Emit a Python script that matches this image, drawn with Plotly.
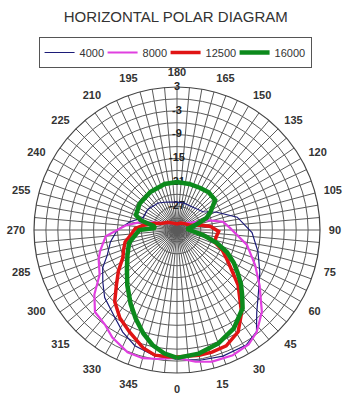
import plotly.graph_objects as go

# ---------------- data ----------------
title_text = "HORIZONTAL POLAR DIAGRAM"
series_names = ["4000", "8000", "12500", "16000"]

theta_4000 = [0, 10, 20, 31, 38, 44, 53, 63, 75, 88, 102, 114, 125, 145, 165, 180, 200, 215, 235, 250, 260, 270, 280, 290, 297, 305, 313, 325, 332, 340, 350, 360]
r_4000 = [-0.5, 0.3, 0.8, 0.8, -0.5, -4.1, -7.3, -9.6, -11.9, -14.1, -17.5, -22.0, -25.0, -26.0, -26.0, -26.0, -25.5, -24.7, -24.0, -23.9, -21.0, -18.0, -16.0, -14.3, -12.0, -10.2, -8.1, -5.9, -3.9, -2.0, -0.8, -0.5]

theta_8000 = [0, 8, 15, 24, 32, 38, 46, 56, 66, 78, 92, 100, 108, 115, 125, 150, 180, 210, 235, 250, 258, 265, 275, 285, 290, 300, 308, 315, 323, 329, 338, 345, 352, 360]
r_8000 = [-0.8, 0.5, 1.3, 1.5, 1.0, -0.4, -3.3, -7.9, -11.5, -15.0, -19.6, -21.2, -25.0, -28.5, -30.0, -31.0, -31.5, -31.0, -30.0, -27.5, -23.5, -20.0, -15.0, -13.0, -12.0, -10.5, -6.6, -3.8, -3.0, -1.4, 0.2, 0.4, -0.2, -0.8]

theta_12500 = [0, 10, 16, 23, 31, 38, 48, 58, 66, 72, 80, 88, 96, 102, 110, 130, 150, 180, 210, 230, 245, 254, 262, 268, 275, 283, 290, 297, 305, 312, 319, 327, 335, 344, 350, 356, 360]
r_12500 = [-1.0, -1.0, -1.0, -1.3, -3.1, -6.6, -12.3, -17.8, -20.5, -23.0, -23.0, -22.5, -24.5, -27.0, -29.5, -30.5, -31.0, -31.5, -31.0, -30.0, -29.0, -27.0, -24.5, -22.5, -21.5, -19.6, -18.7, -17.7, -15.0, -12.5, -9.1, -6.6, -4.7, -2.1, -1.0, -1.0, -1.0]

theta_16000 = [0, 10, 20, 30, 40, 45, 50, 55, 60, 66, 72, 79, 88, 96, 104, 112, 118, 122, 128, 140, 151, 165, 180, 195, 215, 235, 250, 255, 260, 265, 270, 285, 297, 308, 318, 328, 335, 342, 348, 354, 360]
r_16000 = [-0.8, -1.4, -2.6, -4.4, -7.3, -9.8, -12.0, -14.4, -16.5, -19.2, -22.5, -26.3, -29.5, -30.5, -28.5, -25.0, -23.5, -22.6, -20.8, -20.6, -20.9, -21.0, -20.9, -21.0, -21.3, -21.5, -22.0, -23.5, -27.0, -27.5, -23.5, -20.5, -19.0, -17.0, -14.3, -11.0, -8.4, -5.6, -3.4, -1.8, -0.8]

radial_range = [-33, 3]
radial_grid_vals = [3, 0, -3, -6, -9, -12, -15, -18, -21, -24, -27, -30]
radial_label_vals = [3, -3, -9, -15, -21, -27]
angle_grid_vals = list(range(0, 360, 5))
angle_label_step = 15

colors = ["#1c1c78", "#e040e0", "#e01414", "#0c8a1c"]
widths = [1.2, 2.2, 3.5, 4.5]
legend_text_widths = [18, 18, 24, 31]

# ---------------- figure ----------------
fig = go.Figure()

# radial scale labels drawn along the 180 degree spoke
fig.add_trace(go.Scatterpolar(
    r=radial_label_vals,
    theta=[180] * len(radial_label_vals),
    mode="text",
    text=[str(v) for v in radial_label_vals],
    textfont=dict(family="Liberation Sans, Arial", size=11, color="#222", weight="bold"),
    showlegend=False,
    hoverinfo="skip",
))

all_theta = [theta_4000, theta_8000, theta_12500, theta_16000]
all_r = [r_4000, r_8000, r_12500, r_16000]
for name, th, rr, c, w, lw in zip(series_names, all_theta, all_r, colors, widths, legend_text_widths):
    fig.add_trace(go.Scatterpolar(
        r=rr, theta=th, mode="lines", name=name,
        line=dict(color=c, width=w), legendwidth=lw,
    ))

fig.update_layout(
    width=346, height=398,
    margin=dict(l=34, r=26, t=87, b=25),
    paper_bgcolor="white",
    font=dict(family="Liberation Sans, Arial", color="#333"),
    title=dict(text=title_text, x=0.508, xanchor="center", y=1 - 17 / 398, yanchor="middle",
               font=dict(size=15, color="#333")),
    legend=dict(orientation="h", xref="container", x=0.506, xanchor="center",
                yref="container", y=1 - 37 / 398, yanchor="top",
                bordercolor="#555", borderwidth=1, bgcolor="white",
                font=dict(size=11, color="#333"), itemwidth=30,
                tracegroupgap=0),
    polar=dict(
        bgcolor="white",
        radialaxis=dict(
            range=radial_range, tickvals=radial_grid_vals,
            showticklabels=False, ticks="", showline=False,
            gridcolor="#5a5a5a", gridwidth=1, angle=90,
        ),
        angularaxis=dict(
            rotation=270, direction="counterclockwise",
            tickvals=angle_grid_vals,
            ticktext=[str(a) if a % angle_label_step == 0 else "" for a in angle_grid_vals],
            tickfont=dict(size=11, color="#333", weight="bold"),
            ticks="outside", ticklen=6, tickcolor="rgba(0,0,0,0)",
            gridcolor="#5a5a5a", gridwidth=1,
            showline=True, linecolor="#444", linewidth=1.2,
        ),
    ),
)

fig.write_html("out.html")
